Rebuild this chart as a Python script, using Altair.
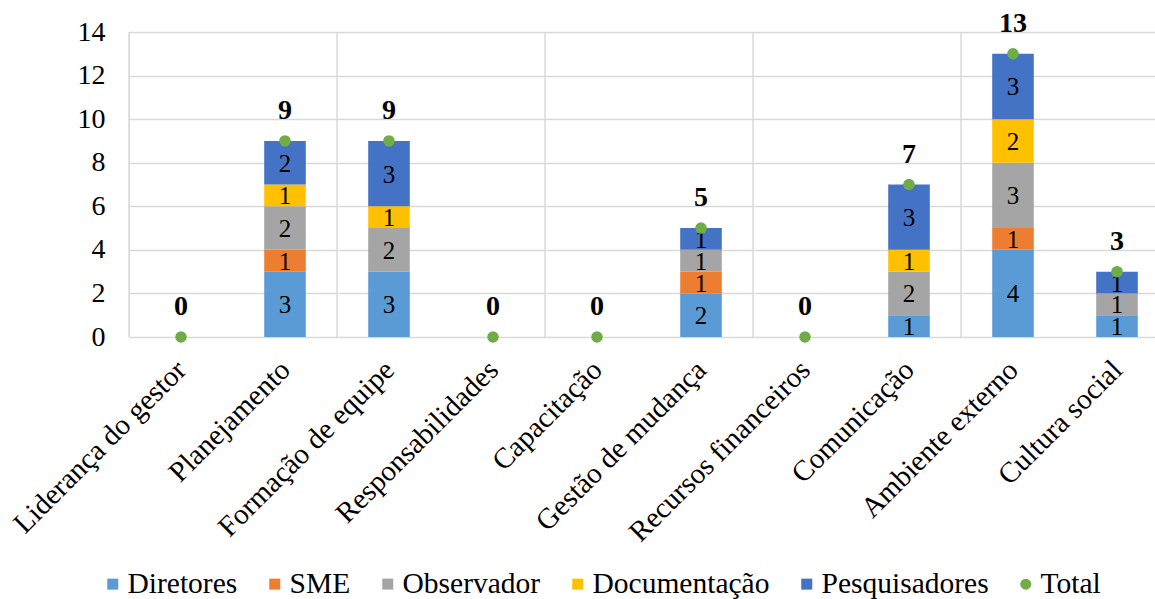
import json
import altair as alt
import pandas as pd

# Categories and counts per source
categories = [
    "Liderança do gestor", "Planejamento", "Formação de equipe", "Responsabilidades",
    "Capacitação", "Gestão de mudança", "Recursos financeiros", "Comunicação",
    "Ambiente externo", "Cultura social",
]
series_names = ["Diretores", "SME", "Observador", "Documentação", "Pesquisadores"]
diretores = [0, 3, 3, 0, 0, 2, 0, 1, 4, 1]
sme = [0, 1, 0, 0, 0, 1, 0, 0, 1, 0]
observador = [0, 2, 2, 0, 0, 1, 0, 2, 3, 1]
documentacao = [0, 1, 1, 0, 0, 0, 0, 1, 2, 0]
pesquisadores = [0, 2, 3, 0, 0, 1, 0, 3, 3, 1]
total = [0, 9, 9, 0, 0, 5, 0, 7, 13, 3]

legend_names = series_names + ["Total"]
colors = ["#5B9BD5", "#ED7D31", "#A5A5A5", "#FFC000", "#4472C4", "#70AD47"]
shapes = ["square"] * 5 + ["circle"]
band_lines = [0, 2, 4, 6, 8]

FONT = "Liberation Serif"

# Long table with stacked extents
rows = []
for i, cat in enumerate(categories):
    base = 0
    for name, vals in zip(series_names, [diretores, sme, observador, documentacao, pesquisadores]):
        v = vals[i]
        if v > 0:
            rows.append({
                "idx": i + 0.5, "cat": cat, "serie": name, "valor": v,
                "x0": i + 0.3, "x1": i + 0.7,
                "y0": base, "y1": base + v, "ymid": base + v / 2,
            })
        base += v
seg = pd.DataFrame(rows)
tot = pd.DataFrame({
    "idx": [i + 0.5 for i in range(len(categories))],
    "cat": categories, "total": total, "serie": "Total",
})
grid = pd.DataFrame({"g": band_lines})

x_scale = alt.Scale(domain=[0, 1026 / 104], nice=False, zero=False)
y_scale = alt.Scale(domain=[0, 14], nice=False)
color_scale = alt.Scale(domain=legend_names, range=colors)
shape_scale = alt.Scale(domain=legend_names, range=shapes)

label_expr = json.dumps(categories, ensure_ascii=False) + "[floor(datum.value)]"

x_axis = alt.Axis(
    values=[i + 0.5 for i in range(len(categories))],
    labelExpr=label_expr, labelAngle=315, labelAlign="right", labelBaseline="middle",
    labelFont=FONT, labelFontSize=29, labelColor="#000000", labelPadding=28,
    labelLimit=0, grid=False, labelOverlap=False, labelBound=False, labelFlush=False,
    ticks=False, domain=False, title=None,
)
y_axis = alt.Axis(
    values=list(range(0, 15, 2)), labelFont=FONT, labelFontSize=28, labelColor="#000000",
    labelPadding=24, grid=True, gridColor="#D9D9D9", gridWidth=1.5,
    ticks=False, domain=False, title=None,
)
legend = alt.Legend(
    orient="none", direction="horizontal", legendX=-31, legendY=537, title=None,
    labelFont=FONT, labelFontSize=29.5, labelColor="#000000", labelLimit=0,
    symbolSize=121, symbolStrokeWidth=0, labelOffset=0, columnPadding=22,
)


def xq(field):
    return alt.X(field, type="quantitative", scale=x_scale, axis=x_axis)


def yq(field):
    return alt.Y(field, type="quantitative", scale=y_scale, axis=y_axis)


vrules = alt.Chart(grid).mark_rule(color="#D9D9D9", strokeWidth=1.5).encode(
    x=xq("g"),
)

bars = alt.Chart(seg).mark_bar().encode(
    x=xq("x0"),
    x2="x1:Q",
    y=yq("y0"),
    y2="y1:Q",
    color=alt.Color("serie:N", scale=color_scale, legend=legend),
)

seg_text = alt.Chart(seg).mark_text(font=FONT, fontSize=25, color="#000000", dy=1).encode(
    x=xq("idx"),
    y=yq("ymid"),
    text=alt.Text("valor:Q"),
)

points = alt.Chart(tot).mark_point(filled=True, size=133, opacity=1).encode(
    x=xq("idx"),
    y=yq("total"),
    color=alt.Color("serie:N", scale=color_scale, legend=legend),
    shape=alt.Shape("serie:N", scale=shape_scale, legend=legend),
)

tot_text = alt.Chart(tot).mark_text(
    font=FONT, fontSize=28, fontWeight="bold", color="#000000",
    baseline="alphabetic", dy=-22,
).encode(
    x=xq("idx"),
    y=yq("total"),
    text=alt.Text("total:Q"),
)

chart = alt.layer(vrules, bars, seg_text, points, tot_text).properties(
    width=1026, height=305,
    autosize=alt.AutoSizeParams(type="none"),
    padding={"left": 129, "top": 32, "right": 0, "bottom": 262},
    background="#FFFFFF",
).configure_view(
    stroke=None
).configure(
    font=FONT
)

chart.save("out.html", embed_options={"renderer": "svg", "actions": False})
